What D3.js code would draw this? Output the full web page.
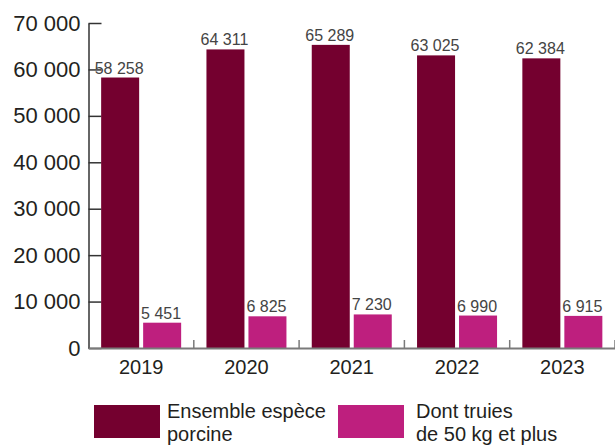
<!DOCTYPE html>
<html>
<head>
<meta charset="utf-8">
<script src="https://cdn.jsdelivr.net/npm/d3@7"></script>
<style>
  body { margin: 0; background: #fff; }
  svg { display: block; font-family: "Liberation Sans", Arial, sans-serif; }
</style>
</head>
<body>
<svg id="chart" width="615" height="448"></svg>
<script>
// Data
var years = ["2019", "2020", "2021", "2022", "2023"];
var seriesNames = ["Ensemble espèce porcine", "Dont truies de 50 kg et plus"];
var ensemble = [58258, 64311, 65289, 63025, 62384];
var truies = [5451, 6825, 7230, 6990, 6915];
var yTicks = [0, 10000, 20000, 30000, 40000, 50000, 60000, 70000];
var legendLines = [["Ensemble espèce", "porcine"], ["Dont truies", "de 50 kg et plus"]];
var colors = ["#74002f", "#be1f7e"];

var svg = d3.select("#chart");

// french number format : 58 258
var fr = d3.formatLocale({decimal: ",", thousands: "\u00a0", grouping: [3], currency: ["", " €"]});
var fmt = fr.format(",d");

// Scales
var x = d3.scaleBand()
    .domain(years)
    .range([88.5, 615])
    .padding(0);

var x1 = d3.scaleBand()
    .domain(seriesNames)
    .range([x.bandwidth() / 2 - 40, x.bandwidth() / 2 + 40])
    .paddingInner(0.095);

var y = d3.scaleLinear()
    .domain([0, 70000])
    .range([348, 23]);

var rows = years.map(function(yr, i) {
    return {year: yr, values: [ensemble[i], truies[i]]};
});

// Y axis (ticks pointing inward, labels on the left)
var yAxis = svg.append("g")
    .attr("transform", "translate(88.5,0)")
    .call(d3.axisLeft(y).tickValues(yTicks).tickFormat(fmt)
        .tickSizeInner(-13).tickSizeOuter(0).tickPadding(8));
yAxis.select(".domain").attr("stroke", "#333").attr("stroke-width", 1.5);
yAxis.selectAll(".tick line").attr("stroke", "#333").attr("stroke-width", 1.5);
yAxis.selectAll(".tick text")
    .attr("fill", "#231f20")
    .style("font-size", "22px");

// Bars
var groups = svg.selectAll(".grp")
    .data(rows)
    .enter()
    .append("g")
    .attr("class", "grp")
    .attr("transform", function(d) { return "translate(" + x(d.year) + ",0)"; });

groups.selectAll("rect")
    .data(function(d) { return d.values.map(function(v, j) { return {key: seriesNames[j], value: v, j: j}; }); })
    .enter()
    .append("rect")
    .attr("x", function(d) { return x1(d.key); })
    .attr("y", function(d) { return y(d.value); })
    .attr("width", x1.bandwidth())
    .attr("height", function(d) { return y(0) - y(d.value); })
    .attr("fill", function(d) { return colors[d.j]; });

// Value labels
groups.selectAll(".val")
    .data(function(d) { return d.values.map(function(v, j) { return {key: seriesNames[j], value: v}; }); })
    .enter()
    .append("text")
    .attr("class", "val")
    .attr("x", function(d) { return x1(d.key) + x1.bandwidth() / 2 - 1; })
    .attr("y", function(d) { return y(d.value) - 4; })
    .attr("text-anchor", "middle")
    .attr("fill", "#444")
    .style("font-size", "16px")
    .text(function(d) { return fmt(d.value); });

// X axis
var xAxis = svg.append("g")
    .attr("transform", "translate(0,348)")
    .call(d3.axisBottom(x).tickSize(0).tickPadding(12));
xAxis.select(".domain").attr("stroke", "#7a7a7a").attr("stroke-width", 2);
xAxis.selectAll(".tick text")
    .attr("fill", "#231f20")
    .style("font-size", "20px");

// boundary ticks between the years
svg.append("g").selectAll("line")
    .data(years)
    .enter()
    .append("line")
    .attr("x1", function(d) { return x(d) + x.bandwidth(); })
    .attr("x2", function(d) { return x(d) + x.bandwidth(); })
    .attr("y1", 348)
    .attr("y2", 340)
    .attr("stroke", "#7a7a7a")
    .attr("stroke-width", 1.5);

// Legend
var legend = svg.append("g");
var legendX = [94, 338];
legendLines.forEach(function(lines, i) {
    var g = legend.append("g").attr("transform", "translate(" + legendX[i] + ",405)");
    g.append("rect")
        .attr("width", 66)
        .attr("height", 33)
        .attr("fill", colors[i]);
    g.selectAll("text")
        .data(lines)
        .enter()
        .append("text")
        .attr("x", i == 0 ? 73 : 78)
        .attr("y", function(d, k) { return 13 + k * 23; })
        .attr("fill", "#231f20")
        .style("font-size", "20px")
        .text(function(d) { return d; });
});
</script>
</body>
</html>
